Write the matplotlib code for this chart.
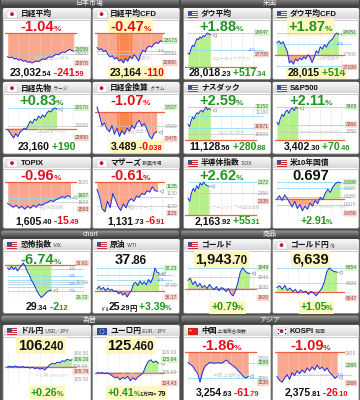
import numpy as np
import matplotlib
matplotlib.use("Agg")
import matplotlib.pyplot as plt
import matplotlib.transforms as mtrans
from matplotlib.patches import Rectangle, FancyBboxPatch, Circle, Wedge
from matplotlib.offsetbox import TextArea, HPacker, AnnotationBbox
from matplotlib.colors import LinearSegmentedColormap

plt.rcParams['font.family'] = ['Liberation Sans', 'Noto Sans CJK JP', 'DejaVu Sans']

# ---------------- data ----------------
titles = ['日経平均', '日経平均CFD', 'ダウ平均', 'ダウ平均CFD',
          '日経先物', '日経金換算', 'ナスダック', 'S&P500',
          'TOPIX', 'マザーズ', '半導体指数', '米10年国債',
          '恐怖指数', '原油', 'ゴールド', 'ゴールド円',
          'ドル円', 'ユーロ円', '中国', 'KOSPI']
subtitles = ['', '', '', '', 'ラージ', 'グラム', '', '', '', '新興市場', 'SOX', '',
             'VIX', 'WTI', '', '/g', 'USD／JPY', 'EUR／JPY', '上海総合指数', '韓国']
flags = ['jp', 'jp', 'us', 'us', 'jp', 'jp', 'us', 'us', 'jp', 'jp', 'us', 'us',
         'us', 'us', 'us', 'jp', 'us', 'eu', 'cn', 'kr']
section_names = [('日本市場', '米国'), ('chart', '商品'), ('為替', 'アジア')]

nikkei225 = [22962, 22948, 22957, 22930, 22941, 22915, 22928, 22902, 22911, 22888, 22897, 22879,
             22893, 22905, 22897, 22918, 22933, 22925, 22948, 22962, 22955, 22978, 22995, 22987,
             23012, 23025, 23018, 23041, 23059, 23045, 23032]
nikkei_cfd = [23085, 23052, 23068, 23030, 23045, 22990, 22958, 22975, 22930, 22952, 22905, 22925,
              22880, 22938, 22902, 22965, 22935, 22990, 22958, 22905, 22995, 23048, 23025, 23085,
              23102, 23090, 23128, 23150, 23138, 23173, 23164]
dow = [27722, 27705, 27790, 27850, 27828, 27900, 27958, 27940, 27985, 27962, 28005, 27990, 28022,
       28047, 28030, 28018]
dow_cfd = [27805, 27852, 27780, 27835, 27700, 27590, 27300, 27352, 27270, 27405, 27348, 27425,
           27378, 27455, 27402, 27505, 27448, 27310, 27425, 27605, 27548, 27705, 27650, 27755,
           27700, 27810, 27860, 27905, 28005, 28051, 28015]
nikkei_fut = [22962, 22938, 22905, 22880, 22922, 22893, 22935, 22952, 22975, 22962, 23003, 23042,
              23021, 23062, 23050, 23092, 23071, 23103, 23082, 23121, 23142, 23131, 23160, 23170, 23160]
nikkei_gold = [3.537, 3.521, 3.501, 3.506, 3.494, 3.489, 3.501, 3.484, 3.496, 3.480, 3.491, 3.484,
               3.496, 3.490, 3.501, 3.495, 3.506, 3.511, 3.500, 3.505, 3.494, 3.481, 3.475, 3.486, 3.489]
nasdaq = [10990, 10971, 11022, 11058, 11041, 11079, 11100, 11088, 11112, 11121, 11104, 11133,
          11152, 11126, 11138, 11128]
sp500 = [3371, 3366, 3380, 3389, 3384, 3395, 3398, 3391, 3400, 3403, 3397, 3405, 3402]
topix = [1599, 1597, 1595, 1597, 1594, 1596, 1593, 1596, 1594, 1597, 1595, 1598, 1597, 1599, 1600,
         1602, 1601, 1603, 1604, 1606, 1605, 1607, 1605.4]
mothers = [1133, 1127, 1118, 1116, 1124, 1119, 1130, 1125, 1120, 1117, 1122, 1119, 1124, 1126,
           1124, 1128, 1127, 1130, 1129, 1132, 1131, 1135, 1132, 1131.7]
sox = [2141, 2135, 2151, 2160, 2154, 2165, 2159, 2170, 2166, 2172, 2167, 2165, 2164]
us10y = [0.677, 0.681, 0.675, 0.682, 0.678, 0.672, 0.667, 0.674, 0.665, 0.670, 0.662, 0.668, 0.664,
         0.672, 0.668, 0.675, 0.671, 0.679, 0.676, 0.684, 0.689, 0.685, 0.692, 0.696, 0.698, 0.697]
vix = [31.20, 31.05, 31.32, 31.08, 31.25, 30.95, 31.18, 31.40, 31.61, 31.30, 30.88, 30.62, 30.18,
       29.92, 29.58, 29.22, 28.95, 28.72, 28.86, 29.02, 29.21, 29.30, 29.34]
wti = [36.75, 36.92, 36.70, 36.86, 36.60, 36.81, 36.64, 36.72, 36.55, 36.62, 36.40, 36.52, 36.30,
       36.46, 36.17, 36.42, 36.62, 37.10, 37.22, 36.98, 37.31, 37.08, 37.26, 37.04, 37.42, 37.18,
       37.52, 38.23, 37.92, 37.86]
gold = [1937, 1939, 1933, 1936, 1931, 1934, 1930, 1932, 1929, 1933, 1930, 1928, 1931, 1927, 1930,
        1929, 1926, 1929, 1924, 1922, 1927, 1935, 1945, 1949, 1946, 1944, 1943.7]
gold_jpy = [6585, 6591, 6578, 6592, 6575, 6583, 6570, 6578, 6565, 6576, 6568, 6572, 6560, 6571,
            6565, 6555, 6568, 6580, 6602, 6640, 6654, 6645, 6641, 6639]
usdjpy = [105.97, 105.99, 105.96, 106.00, 105.97, 105.95, 105.98, 105.94, 105.96, 105.92, 105.95,
          105.90, 105.93, 105.88, 105.91, 105.85, 105.95, 106.05, 106.10, 106.08, 106.15, 106.12,
          106.20, 106.18, 106.26, 106.22, 106.24]
eurjpy = [124.98, 124.95, 124.97, 124.93, 124.96, 124.90, 124.80, 124.70, 124.75, 124.60, 124.72,
          124.65, 124.78, 124.55, 124.70, 124.60, 124.75, 124.85, 124.95, 125.30, 125.55, 125.64,
          125.50, 125.58, 125.46]
shanghai = [3290, 3285, 3280, 3270, 3262, 3240, 3265, 3280, 3285, 3290, 3289, 3288, 3289, 3289,
            3288, 3292, 3296, 3290, 3285, 3280, 3275, 3268, 3262, 3255, 3250, 3254.6]
kospi = [2376, 2372, 2370, 2374, 2378, 2373, 2380, 2377, 2382, 2379, 2383, 2380, 2385, 2382, 2386,
         2383, 2388, 2384, 2386, 2382, 2385, 2380, 2378, 2374, 2376]

series = [nikkei225, nikkei_cfd, dow, dow_cfd, nikkei_fut, nikkei_gold, nasdaq, sp500,
          topix, mothers, sox, us10y, vix, wti, gold, gold_jpy, usdjpy, eurjpy, shanghai, kospi]
ref_levels = [23274.13, 23274, 27500.89, 27501, 22970, 3.527, 10847.68, 3331.84,
              1620.89, 1138.64, 2108.61, 0.6773, 31.46, 36.62, 1928.5, 6570,
              105.965, 124.95, 3316.42, 2401.91]

heads = [
    [('-1.04', 'H', 'r'), ('%', 'h', 'r')], [('-0.47', 'H', 'r'), ('%', 'h', 'r')],
    [('+1.88', 'H', 'g'), ('%', 'h', 'g')], [('+1.87', 'H', 'g'), ('%', 'h', 'g')],
    [('+0.83', 'H', 'g'), ('%', 'h', 'g')], [('-1.07', 'H', 'r'), ('%', 'h', 'r')],
    [('+2.59', 'H', 'g'), ('%', 'h', 'g')], [('+2.11', 'H', 'g'), ('%', 'h', 'g')],
    [('-0.96', 'H', 'r'), ('%', 'h', 'r')], [('-0.61', 'H', 'r'), ('%', 'h', 'r')],
    [('+2.62', 'H', 'g'), ('%', 'h', 'g')], [('0.697', 'H', 'k')],
    [('-6.74', 'H', 'g'), ('%', 'h', 'g')], [('37', 'H', 'k'), ('.86', 'M', 'k')],
    [('1,943', 'H', 'k'), ('.70', 'M', 'k')], [('6,639', 'H', 'k')],
    [('106', 'H', 'k'), ('.240', 'M', 'k')], [('125', 'H', 'k'), ('.460', 'M', 'k')],
    [('-1.86', 'H', 'r'), ('%', 'h', 'r')], [('-1.09', 'H', 'r'), ('%', 'h', 'r')],
]
feet = [
    [('23,032', 'L', 'k'), ('.54', 'S', 'k'), (' -241', 'L', 'r'), ('.59', 'S', 'r')],
    [('23,164', 'L', 'k'), (' -110', 'L', 'r')],
    [('28,018', 'L', 'k'), ('.23', 'S', 'k'), (' +517', 'L', 'g'), ('.34', 'S', 'g')],
    [('28,015', 'L', 'k'), (' +514', 'L', 'g')],
    [('23,160', 'L', 'k'), (' +190', 'L', 'g')],
    [('3.489', 'L', 'k'), (' -0', 'L', 'r'), ('.038', 'S', 'r')],
    [('11,128', 'L', 'k'), ('.56', 'S', 'k'), (' +280', 'L', 'g'), ('.88', 'S', 'g')],
    [('3,402', 'L', 'k'), ('.30', 'S', 'k'), (' +70', 'L', 'g'), ('.46', 'S', 'g')],
    [('1,605', 'L', 'k'), ('.40', 'S', 'k'), (' -15', 'L', 'r'), ('.49', 'S', 'r')],
    [('1,131', 'L', 'k'), ('.73', 'S', 'k'), (' -6', 'L', 'r'), ('.91', 'S', 'r')],
    [('2,163', 'L', 'k'), ('.92', 'S', 'k'), (' +55', 'L', 'g'), ('.31', 'S', 'g')],
    [('+2.91', 'L', 'g'), ('%', 'S', 'g')],
    [('29', 'L', 'k'), ('.34', 'S', 'k'), (' -2', 'L', 'g'), ('.12', 'S', 'g')],
    [('ﾄﾞﾙ', 'XS', 'k'), ('25', 'L', 'k'), ('.29', 'S', 'k'), ('円', 'S', 'k'), (' +3.39', 'L', 'g'), ('%', 'S', 'g')],
    [('+0.79', 'L', 'g'), ('%', 'S', 'g')],
    [('+1.05', 'L', 'g'), ('%', 'S', 'g')],
    [('+0.26', 'L', 'g'), ('%', 'S', 'g')],
    [('+0.41', 'L', 'g'), ('%', 'S', 'g'), (' 1万円= ', 'XS', 'k'), ('79', 'S', 'k')],
    [('3,254', 'L', 'k'), ('.63', 'S', 'k'), (' -61', 'L', 'r'), ('.79', 'S', 'r')],
    [('2,375', 'L', 'k'), ('.81', 'S', 'k'), (' -26', 'L', 'r'), ('.10', 'S', 'r')],
]
side_labels = [
    [(23059, '23059', 'g'), (23000, '23000', 'n'), (22878, '22878', 'r')],
    [(23173, '23173', 'g'), (23041, '-1%', 'b'), (23000, '23000', 'n'), (22880, '22880', 'r')],
    [(28047, '28047', 'g'), (27776, '+1%', 'b'), (27705, '27705', 'r')],
    [(28051, '28051', 'g'), (27776, '+1%', 'b'), (27500, '27500', 'n'), (27199, '27199', 'r')],
    [(23170, '23170', 'g'), (23000, '23000', 'n'), (22880, '22880', 'r')],
    [(3.537, '3.537', 'g'), (3.500, '3.500', 'n'), (3.475, '3.475', 'r')],
    [(11152, '11152', 'g'), (11100, '11100', 'n'), (10971, '10971', 'r'), (10900, '10900', 'n')],
    [(3405, '3405', 'g'), (3366, '3366', 'r'), (3350, '3350', 'n')],
    [(1620, '1620', 'n'), (1607, '1607', 'g'), (1600, '1600', 'n'), (1593, '1593', 'r')],
    [(1135, '1135', 'g'), (1130, '1130', 'n'), (1120, '1120', 'n'), (1115, '1115', 'r')],
    [(2172, '2172', 'g'), (2150, '2150', 'n'), (2135, '2135', 'r')],
    [(0.698, '0.698', 'g'), (0.690, '0.690', 'n'), (0.680, '0.680', 'n'), (0.670, '0.670', 'n'), (0.659, '0.659', 'r')],
    [(31.61, '31.61', 'r'), (31.15, '-1%', 'b'), (30.52, '-3%', 'b'), (30.00, '30.00', 'n'),
     (29.89, '-5%', 'b'), (29.26, '-7%', 'b'), (28.72, '28.72', 'g')],
    [(38.23, '38.23', 'g'), (37.72, '+3%', 'b'), (37.35, '+2%', 'b'), (37.00, '37.00', 'n'), (36.17, '36.17', 'r')],
    [(1949, '1949', 'g'), (1940, '1940', 'n'), (1930, '1930', 'n'), (1920, '1920', 'r')],
    [(6654, '6654', 'g'), (6600, '6600', 'n'), (6547, '6547', 'r')],
    [(106.50, '106.50', 'n'), (106.26, '106.26', 'g'), (106.00, '106.00', 'n'), (105.79, '105.79', 'r'), (105.50, '105.50', 'n')],
    [(126.00, '126.00', 'n'), (125.64, '125.64', 'g'), (125.00, '125.00', 'n'), (124.43, '124.43', 'r')],
    [(3300, '3300', 'n'), (3289, '3289', 'g'), (3250, '3250', 'n'), (3238, '3238', 'r')],
    [(2400, '2400', 'n'), (2388, '2388', 'g'), (2377.9, '-1%', 'b'), (2369, '2369', 'r')],
]
cyan_levels = [[], [23041], [28047, 27776], [28051, 27776, 27226], [23170], [], [11152, 11065, 10956],
               [3405, 3365], [1604.7], [1127.3], [2172], [0.698, 0.690, 0.680, 0.670],
               [31.15, 30.52, 29.89, 29.26, 30.2, 29.6], [38.23, 37.72, 37.35], [1949], [6654], [], [],
               [3250], [2377.9]]
gray_levels = [[23000], [23000], [], [], [23000], [3.500], [10900], [3350], [1600], [1120], [2150], [],
               [30.00], [37.00], [1940, 1930], [6600], [106.00], [125.00], [3289], []]
watermarks = ['東証 日経225平均', '24時間表示', 'ニューヨークダウ30', 'NYダウ 24時間表示',
              '日経先物ラージ', '日経金換算グラム', 'NASDAQ総合', "Standard&Poor's500",
              '東証株価指数', '東証マザーズ', 'フィラデルフィア半導体指数', 'US 10 Year Treasury Yield',
              '', '', '', '', 'ドル円 USD/JPY', 'ユーロ円 EUR/JPY', '中国 上海総合指数', 'KOSPI Composite']

# ---------------- layout / style ----------------
W, H = 360, 400
COLS = [(3, 91), (92.5, 179.5), (183.5, 271), (272.5, 359)]
ROWS = [(8, 79.5), (82, 154), (157, 228.5), (239, 313.5), (325, 404)]
AX_Y = [(24, 60), (24, 60), (24, 60), (23, 60), (26, 60)]
HEAD_DY = [19, 19, 19, 20.5, 20.5]
FOOT_DY = [64.5, 64.5, 64.5, 68.5, 67.5]
SECTIONS = [(-2, 7.5), (230.5, 238.5), (315.5, 324)]
ylims = [(22812, 23290), (22812, 23290), (27484, 28063), (27174, 28076),
         (22841, 23189), (3.469, 3.539), (10829, 11161), (3327.4, 3407.2),
         (1585, 1622), (1112, 1139.4), (2104.7, 2174), (0.6545, 0.6993),
         (28.6, 31.7), (36.03, 38.66), (1919, 1954.6), (6544, 6675),
         (105.27, 106.577), (124.33, 126.10), (3232.9, 3318.9), (2367, 2403)]
fracs = [0.82, 0.82, 0.30, 0.78, 0.62, 0.75, 0.30, 0.28, 0.78, 0.76, 0.28, 0.80,
         0.55, 0.78, 0.77, 0.76, 0.80, 0.77, 0.75, 0.76]
head_hl = [False, True, False, True, False, False, False, False, False, False, False, False,
           False, False, True, True, True, True, False, False]
foot_hl = [False, True, False, True, False, True, False, False, False, False, False, False,
           False, False, True, True, True, True, False, False]
session_band = {1: (0.25, 0.46), 5: (0.25, 0.46)}
invert_fill = {12}

SIZES = {'H': 10.5, 'h': 6.0, 'M': 8.3, 'L': 7.6, 'S': 5.4, 'XS': 3.6}
TCOL = {'r': '#e3101a', 'g': '#1f961f', 'k': '#111111'}
RED_FILL, GREEN_FILL, BAND = '#f9a88f', '#b6f08c', '#f8884e'
LINE = '#1c2ee0'
LAB_BG = {'g': '#d6f5cc', 'r': '#fcd2ca', 'n': 'none', 'b': 'none'}
LAB_FG = {'g': '#3d6e3d', 'r': '#7a4a44', 'n': '#9a9a9a', 'b': '#5a5aff'}

fig = plt.figure(figsize=(3.6, 4.0), dpi=100)
fig.patch.set_facecolor('#4e4e4e')
bg = fig.add_axes([0, 0, 1, 1])
bg.axis('off')

title_cmap = LinearSegmentedColormap.from_list('t', ['#fbfbfb', '#d8d8d8'])
head_cmap = LinearSegmentedColormap.from_list('h', ['#9a9a9a', '#3e3e3e'])
grad = np.linspace(0, 1, 16).reshape(-1, 1)


def gradient(x0, x1, y0, y1, cmap, z, clip=None):
    im = bg.imshow(grad, cmap=cmap, extent=(x0, x1, y1, y0), aspect='auto', zorder=z,
                   interpolation='bilinear')
    if clip is not None:
        im.set_clip_path(clip)


def draw_flag(kind, x, y, w=10, h=7):
    z = 6
    if kind == 'jp':
        bg.add_patch(Rectangle((x, y), w, h, fc='white', ec='#c0c0c0', lw=0.3, zorder=z))
        bg.add_patch(Circle((x + w / 2, y + h / 2), 1.9, fc='#d0102a', ec='none', zorder=z + 1))
    elif kind == 'us':
        for k in range(7):
            bg.add_patch(Rectangle((x, y + k * h / 7), w, h / 7,
                                   fc='#c8303c' if k % 2 == 0 else '#f4f4f4', ec='none', zorder=z))
        bg.add_patch(Rectangle((x, y), w * 0.45, h * 4 / 7, fc='#3b4f93', ec='none', zorder=z + 1))
    elif kind == 'cn':
        bg.add_patch(Rectangle((x, y), w, h, fc='#d81e1e', ec='none', zorder=z))
        bg.plot([x + 2.3], [y + 2.3], marker='*', ms=2.6, color='#ffd700', mec='none', zorder=z + 1)
    elif kind == 'kr':
        bg.add_patch(Rectangle((x, y), w, h, fc='white', ec='#c0c0c0', lw=0.3, zorder=z))
        bg.add_patch(Wedge((x + w / 2, y + h / 2), 1.9, 180, 360, fc='#d0102a', ec='none', zorder=z + 1))
        bg.add_patch(Wedge((x + w / 2, y + h / 2), 1.9, 0, 180, fc='#1f3f9a', ec='none', zorder=z + 1))
        for dx, dy in [(-3.6, -2.3), (3.6, -2.3), (-3.6, 2.3), (3.6, 2.3)]:
            bg.plot([x + w / 2 + dx], [y + h / 2 + dy], marker='s', ms=0.9, color='#222', mec='none', zorder=z + 1)
    elif kind == 'eu':
        bg.add_patch(Rectangle((x, y), w, h, fc='#2a4ea8', ec='none', zorder=z))
        ang = np.linspace(0, 2 * np.pi, 12, endpoint=False)
        bg.plot(x + w / 2 + 2.2 * np.cos(ang), y + h / 2 + 2.2 * np.sin(ang), ls='none', marker='o',
                ms=0.6, color='#ffd200', mec='none', zorder=z + 1)


def text_row(parts, x, y, align=(0.5, 0.5), hl=False, z=8):
    kids = [TextArea(t, textprops=dict(fontsize=SIZES[k], color=TCOL[c], fontweight='bold'))
            for t, k, c in parts]
    box = HPacker(children=kids, align='baseline', pad=0, sep=-0.4)
    ab = AnnotationBbox(box, (x, y), xycoords='data', box_alignment=align, frameon=hl, pad=0.12,
                        bboxprops=dict(fc='#fff7bd', ec='none'), zorder=z)
    bg.add_artist(ab)


# section headers
for (ya, yb), names in zip(SECTIONS, section_names):
    for (xa, xb), nm in zip([(1, 179.3), (180.7, 359)], names):
        p = FancyBboxPatch((xa, ya), xb - xa, yb - ya, boxstyle='round,pad=0,rounding_size=2.5',
                           fc='#6a6a6a', ec='#2a2a2a', lw=0.4, zorder=2)
        bg.add_patch(p)
        gradient(xa, xb, ya, yb, head_cmap, 2.5, clip=p)
        bg.text((xa + xb) / 2, (ya + yb) / 2 + 0.3, nm, fontsize=5.0, color='#f2f2f2', ha='center',
                va='center', zorder=4)

# panels
for i in range(20):
    row, col = divmod(i, 4)
    x0, x1 = COLS[col]
    t, b = ROWS[row]
    panel = FancyBboxPatch((x0, t), x1 - x0, b - t, boxstyle='round,pad=0,rounding_size=2',
                           fc='white', ec='#8a8a8a', lw=0.6, zorder=1)
    bg.add_patch(panel)
    gradient(x0 + 0.4, x1 - 0.4, t + 0.4, t + 11.5, title_cmap, 2, clip=panel)
    bg.plot([x0 + 0.4, x1 - 0.4], [t + 11.5, t + 11.5], color='#b4b4b4', lw=0.5, zorder=3)
    draw_flag(flags[i], x0 + 4, t + 2.6)
    tparts = [TextArea(titles[i], textprops=dict(fontsize=5.6, color='#111', fontweight='bold'))]
    if subtitles[i]:
        tparts.append(TextArea(' ' + subtitles[i], textprops=dict(fontsize=3.4, color='#333')))
    tb = HPacker(children=tparts, align='baseline', pad=0, sep=0)
    bg.add_artist(AnnotationBbox(tb, (x0 + 17.5, t + 6.3), xycoords='data', box_alignment=(0, 0.5),
                                 frameon=False, zorder=8))

    text_row(heads[i], x0 + 38, t + HEAD_DY[row], hl=head_hl[i])
    text_row(feet[i], x0 + 44, t + FOOT_DY[row], hl=foot_hl[i])

    # chart axes
    ya, yb = AX_Y[row]
    ax = fig.add_axes([(x0 + 2) / W, 1 - (t + yb) / H, (x1 - x0 - 4) / W, (yb - ya) / H])
    ax.axis('off')
    ax.set_xlim(0, 1)
    ax.set_ylim(*ylims[i])
    s = np.array(series[i], dtype=float)
    ref = ref_levels[i]
    xs = np.linspace(0.03, fracs[i], len(s))
    for gx in np.arange(0.03, 0.84, 0.13):
        ax.axvline(gx, color='#e8e8e8', lw=0.4, zorder=0)
    up_c, dn_c = (RED_FILL, GREEN_FILL) if i in invert_fill else (GREEN_FILL, RED_FILL)
    ax.fill_between(xs, s, ref, where=s >= ref, interpolate=True, color=up_c, lw=0, zorder=1)
    ax.fill_between(xs, s, ref, where=s <= ref, interpolate=True, color=dn_c, lw=0, zorder=1)
    if i in session_band:
        ba, bb = session_band[i]
        m = (xs >= ba) & (xs <= bb)
        ax.fill_between(xs[m], s[m], ref, where=s[m] <= ref, interpolate=True, color=BAND, lw=0, zorder=1.2)
    for gx in np.arange(0.03, fracs[i], 0.13):
        ax.axvline(gx, color='white', lw=0.4, alpha=0.35, zorder=1.5)
    blend = mtrans.blended_transform_factory(ax.transAxes, ax.transData)
    for lv in gray_levels[i]:
        ax.plot([0.03, 0.99], [lv, lv], color='#c4c4c4', lw=0.5, zorder=1.6)
    for lv in cyan_levels[i]:
        ax.plot([0.03, 0.93], [lv, lv], color='#8fdcf5', lw=0.6, zorder=1.6)
    ax.plot([0.0, 0.84], [ref, ref], color='#f0603f', lw=0.9, zorder=1.8)
    ax.plot(xs, s, color=LINE, lw=0.7, zorder=3)
    ax.plot([xs[-1] + 0.04], [s[-1]], marker='<', ms=2.6, mfc='white', mec='#888', mew=0.4, zorder=3)
    if watermarks[i]:
        ax.text(0.55, 0.28, watermarks[i], transform=ax.transAxes, fontsize=3.2, color='#cdcdcd',
                ha='center', va='center', zorder=2)
    for val, txt, kind in side_labels[i]:
        fs = 3.0 if kind == 'b' else 3.6
        xx = 0.845 if kind == 'b' else 0.995
        ax.text(xx, val, txt, transform=blend, fontsize=fs, color=LAB_FG[kind], ha='right', va='center',
                zorder=5, clip_on=False,
                bbox=None if LAB_BG[kind] == 'none' else dict(boxstyle='round,pad=0.12', fc=LAB_BG[kind], ec='none'))

bg.set_xlim(0, W)
bg.set_ylim(H, 0)
fig.savefig('out.png', dpi=100, facecolor=fig.get_facecolor())
